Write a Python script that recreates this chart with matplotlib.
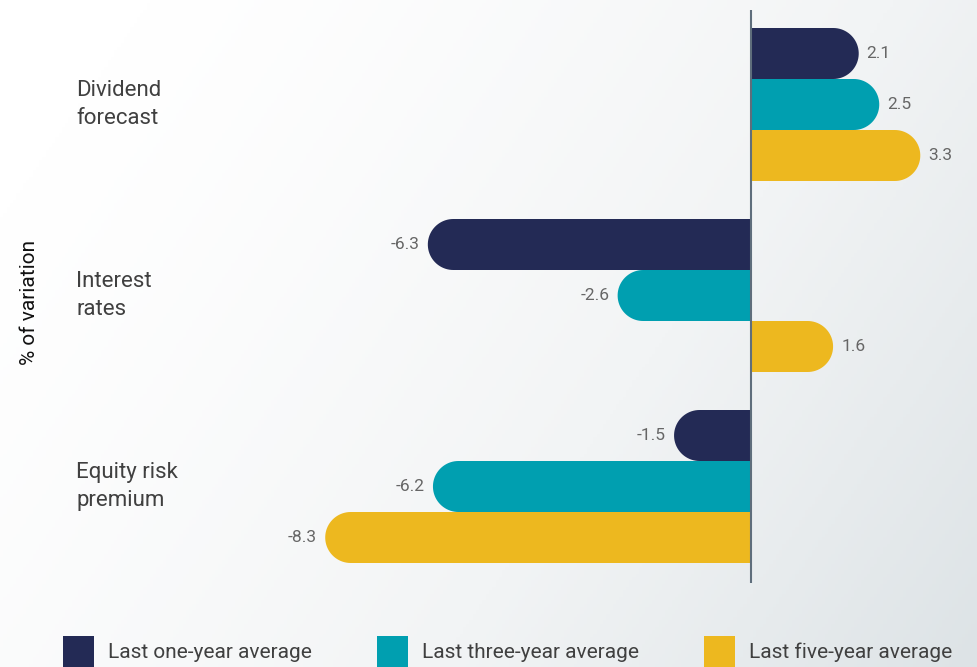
import numpy as np
import matplotlib.pyplot as plt
from matplotlib.patches import Polygon, Rectangle
from matplotlib.transforms import blended_transform_factory
from matplotlib.colors import LinearSegmentedColormap

plt.rcParams['font.family'] = ['Roboto', 'DejaVu Sans']

# data
categories = ["Dividend\nforecast", "Interest\nrates", "Equity risk\npremium"]
series_names = ["Last one-year average", "Last three-year average", "Last five-year average"]
one_year = [2.1, -6.3, -1.5]
three_year = [2.5, -2.6, -6.2]
five_year = [3.3, 1.6, -8.3]
colors = ["#232a55", "#009fb0", "#edb81f"]

W, H = 978, 667
fig = plt.figure(figsize=(W / 100, H / 100), dpi=100)

# background gradient
bg = fig.add_axes([0, 0, 1, 1], zorder=-10)
gx, gy = np.meshgrid(np.linspace(0, 1, 300), np.linspace(0, 1, 200))
grad = np.clip(0.75 * gx + 0.35 * gy - 0.1, 0, 1) ** 1.3
cmap = LinearSegmentedColormap.from_list("bg", ["#ffffff", "#f2f4f5", "#dde3e6"])
bg.imshow(grad, cmap=cmap, aspect="auto", extent=[0, 1, 0, 1], origin="upper")
bg.axis("off")

# main axes, placed in pixels
zero_px = 751
px_x = 51.3
px_y = 51.0
ax_left, ax_right = 280, 975
ax_top, ax_bottom = 10, 583
ax = fig.add_axes([ax_left / W, 1 - ax_bottom / H, (ax_right - ax_left) / W, (ax_bottom - ax_top) / H])
ax.set_xlim((ax_left - zero_px) / px_x, (ax_right - zero_px) / px_x)
first_center = 53.5
ax.set_ylim((ax_bottom - first_center) / px_y, (ax_top - first_center) / px_y)
ax.axis("off")

group_step = 191 / px_y
h = 0.5
rx = h * px_y / px_x
t = np.linspace(-np.pi / 2, np.pi / 2, 40)

all_series = [one_year, three_year, five_year]
for g in range(len(categories)):
    for j, vals in enumerate(all_series):
        v = vals[g]
        c = g * group_step + j
        s = 1 if v > 0 else -1
        cx = v - s * rx
        arc = [(cx + s * rx * np.cos(a), c + h * np.sin(a)) for a in t]
        pts = [(0, c - h)] + arc + [(0, c + h)]
        ax.add_patch(Polygon(pts, closed=True, facecolor=colors[j], edgecolor="none", zorder=2))
        off = 8 / px_x
        ax.text(v + s * off, c, f"{v:.1f}", ha="left" if s > 0 else "right", va="center",
                fontsize=12.5, color="#666666")

ax.axvline(0, color="#5f6e7c", lw=1.5, zorder=3)

# category labels
tr = blended_transform_factory(fig.transFigure, ax.transData)
for g, cat in enumerate(categories):
    ax.text(76 / W, g * group_step + 1, cat, transform=tr, ha="left", va="center",
            fontsize=16, color="#404040", linespacing=1.4)

fig.text(30 / W, 1 - 303 / H, "% of variation", rotation=90, ha="center", va="center",
         fontsize=15, color="#111111")

# legend
leg_x = [63, 377, 704]
for k in range(3):
    fig.patches.append(Rectangle((leg_x[k] / W, 0), 31 / W, 31 / H, transform=fig.transFigure,
                                 facecolor=colors[k], edgecolor="none"))
    fig.text((leg_x[k] + 45) / W, 1 - 652 / H, series_names[k], ha="left", va="center",
             fontsize=15, color="#404040")

fig.savefig("out.png", dpi=100)
